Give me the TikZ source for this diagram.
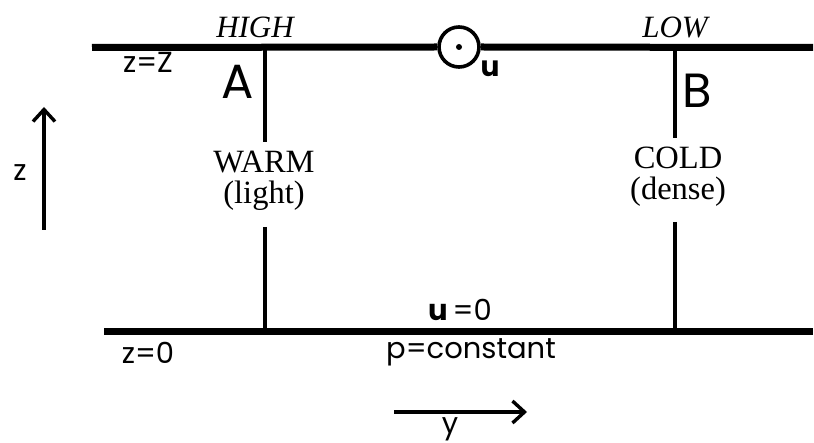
\documentclass[tikz,border=0pt]{standalone}
\usepackage{fontspec}
\setmainfont{Liberation Serif}
\newfontfamily\geo{Poppins}
\usetikzlibrary{arrows.meta}
\begin{document}
\begin{tikzpicture}[x=1pt,y=-1pt,
  wall/.style={line width=7pt},
  post/.style={line width=3.6pt},
  axisarrow/.style={line width=3.4pt,-{Straight Barb[length=12pt,width=22pt,line width=3.4pt]}},
  serif/.style={font=\fontsize{32.5}{34}\selectfont, inner sep=0pt, align=center},
  ital/.style={font=\fontsize{31}{32}\selectfont\itshape, inner sep=0pt},
  geolab/.style={font=\geo\fontsize{29}{31}\selectfont, inner sep=0pt},
  biglab/.style={font=\geo\fontsize{48}{50}\selectfont, inner sep=0pt}
]
\useasboundingbox (0,0) rectangle (814,443);
% walls
\coordinate (tl) at (92,47.5);
\coordinate (tr) at (813,47.5);
\coordinate (bl) at (104,332);
\coordinate (br) at (813,332);
\node[circle, draw, line width=3.6pt, fill=white, minimum size=40pt, inner sep=0pt] (circ) at (459,47) {};
\draw[wall] (tl) -- (circ.west);
\draw[wall] (circ.east) -- (tr);
\draw[wall] (bl) -- (br);
\fill (circ.center) circle (3pt);
\node[font=\geo\bfseries\fontsize{28}{30}\selectfont, inner sep=0pt] (uvec) at (490,69) {u};
% labels on top
\node[ital] (high) at (255,27) {HIGH};
\node[ital] (low) at (675,27) {LOW};
\node[geolab] (zZ) at (148,62) {z=Z};
\node[biglab] (A) at (238,82) {A};
\node[biglab] (B) at (697,91) {B};
% columns
\node[serif] (warm) at (264,181) {WARM\\[-3pt](light)};
\node[serif] (cold) at (678,177) {COLD\\[-3pt](dense)};
\coordinate (aT) at (265,47);
\coordinate (aM1) at (265,142);
\coordinate (aM2) at (265,227);
\coordinate (aB) at (265,332);
\coordinate (bT) at (675,47);
\coordinate (bM1) at (675,138);
\coordinate (bM2) at (675,222);
\coordinate (bB) at (675,332);
\draw[post] (aT) -- (aM1);
\draw[post] (aM2) -- (aB);
\draw[post] (bT) -- (bM1);
\draw[post] (bM2) -- (bB);
% bottom labels
\node[geolab] (u0) at (460,310) {\textbf{u}\,=0};
\node[geolab] (z0) at (148,353) {z=0};
\node[geolab] (pc) at (471,352) {p=constant};
% axes
\coordinate (zS) at (44,230);
\coordinate (zE) at (44,107);
\draw[axisarrow] (zS) -- (zE);
\node[geolab] (zlab) at (20,173) {z};
\coordinate (yS) at (394,412);
\coordinate (yE) at (527,412);
\draw[axisarrow] (yS) -- (yE);
\node[geolab, anchor=base] (ylab) at (450,433) {y};
\end{tikzpicture}
\end{document}
